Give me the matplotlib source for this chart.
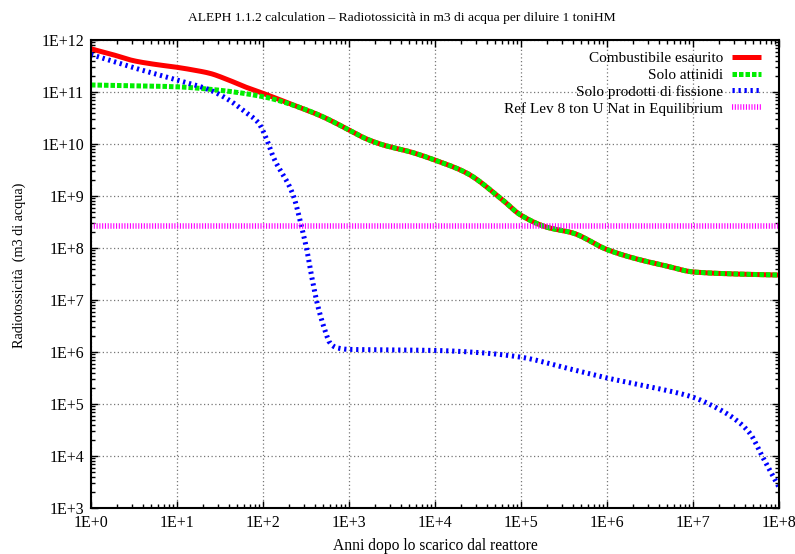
import numpy as np
import matplotlib
matplotlib.use("Agg")
import matplotlib.pyplot as plt
from matplotlib.ticker import LogLocator, NullFormatter, FixedLocator

plt.rcParams['font.family'] = ['Liberation Serif', 'DejaVu Serif']

# Data (log10 of years, log10 of value)
red_logx = [0.0, 0.25, 0.5, 0.75, 1.0, 1.2, 1.38, 1.6, 1.79, 2.0, 2.26, 2.45, 2.7, 3.0, 3.2, 3.4, 3.71, 4.0, 4.37,
            4.76, 5.0, 5.3, 5.6, 6.0, 6.3, 6.7, 7.0, 7.5, 8.0]
red_logy = [11.83, 11.72, 11.60, 11.53, 11.475, 11.42, 11.36, 11.23, 11.10, 10.975, 10.81, 10.69, 10.52, 10.27, 10.10,
            9.98, 9.85, 9.69, 9.44, 8.96, 8.63, 8.40, 8.29, 7.97, 7.81, 7.65, 7.54, 7.50, 7.48]

act_logx = [0.0, 0.5, 1.0, 1.4, 2.0, 2.45, 2.7, 3.0, 3.2, 3.4, 3.71, 4.0, 4.37, 4.76, 5.0, 5.3, 5.6, 6.0, 6.3, 6.7,
            7.0, 7.5, 8.0]
act_logy = [11.135, 11.12, 11.10, 11.05, 10.91, 10.69, 10.52, 10.27, 10.10, 9.98, 9.85, 9.69, 9.44, 8.96, 8.63, 8.40,
            8.29, 7.97, 7.81, 7.65, 7.54, 7.50, 7.48]

fp_logx = [0.0, 0.51, 1.0, 1.38, 1.6, 1.79, 1.95, 2.04, 2.12, 2.35, 2.45, 2.51, 2.58, 2.64, 2.72, 2.78, 2.86, 3.0,
           3.5, 4.0, 4.5, 5.0, 5.53, 6.0, 6.5, 7.0, 7.28, 7.47, 7.66, 7.81, 8.0]
fp_logy = [11.72, 11.46, 11.23, 11.04, 10.85, 10.62, 10.40, 10.10, 9.75, 9.02, 8.40, 7.96, 7.33, 6.87, 6.42, 6.17,
           6.08, 6.05, 6.04, 6.03, 5.99, 5.90, 5.69, 5.50, 5.33, 5.13, 4.92, 4.73, 4.44, 3.98, 3.40]

ref_level = 2.6e8

x_ticks = [1e0, 1e1, 1e2, 1e3, 1e4, 1e5, 1e6, 1e7, 1e8]
x_labels = ["1E+0", "1E+1", "1E+2", "1E+3", "1E+4", "1E+5", "1E+6", "1E+7", "1E+8"]
y_ticks = [1e3, 1e4, 1e5, 1e6, 1e7, 1e8, 1e9, 1e10, 1e11, 1e12]
y_labels = ["1E+3", "1E+4", "1E+5", "1E+6", "1E+7", "1E+8", "1E+9", "1E+10", "1E+11", "1E+12"]

labels = ["Combustibile esaurito", "Solo attinidi", "Solo prodotti di fissione", "Ref Lev 8 ton U Nat in Equilibrium"]


def smooth(lx, ly, n=400):
    lx = np.asarray(lx, float)
    ly = np.asarray(ly, float)
    xs = np.linspace(lx[0], lx[-1], n)
    # monotone cubic (PCHIP-like) interpolation
    h = np.diff(lx)
    d = np.diff(ly) / h
    m = np.zeros_like(ly)
    m[0] = d[0]
    m[-1] = d[-1]
    for i in range(1, len(ly) - 1):
        if d[i - 1] * d[i] <= 0:
            m[i] = 0
        else:
            w1 = 2 * h[i] + h[i - 1]
            w2 = h[i] + 2 * h[i - 1]
            m[i] = (w1 + w2) / (w1 / d[i - 1] + w2 / d[i])
    idx = np.clip(np.searchsorted(lx, xs) - 1, 0, len(h) - 1)
    t = (xs - lx[idx]) / h[idx]
    h00 = 2 * t**3 - 3 * t**2 + 1
    h10 = t**3 - 2 * t**2 + t
    h01 = -2 * t**3 + 3 * t**2
    h11 = t**3 - t**2
    ys = h00 * ly[idx] + h10 * h[idx] * m[idx] + h01 * ly[idx + 1] + h11 * h[idx] * m[idx + 1]
    return 10**xs, 10**ys


W, H = 795, 554
fig = plt.figure(figsize=(W / 100, H / 100), dpi=100)
ax = fig.add_axes([91 / W, 1 - 508 / H, 688 / W, 468 / H])

x, y = smooth(red_logx, red_logy)
ax.plot(x, y, color='#ff0000', lw=3.6, solid_capstyle='butt', label=labels[0])
x, y = smooth(act_logx, act_logy)
ax.plot(x, y, color='#00ee00', lw=3.6, linestyle=(0, (0.9, 0.4)), label=labels[1])
x, y = smooth(fp_logx, fp_logy)
ax.plot(x, y, color='#0000ff', lw=3.6, linestyle=(0, (0.45, 0.75)), label=labels[2])
ax.plot([1e0, 1e8], [ref_level, ref_level], color='#ff00ff', lw=4.0, linestyle=(0, (0.2, 0.3)), label=labels[3])

ax.set_xscale('log')
ax.set_yscale('log')
ax.set_xlim(1e0, 1e8)
ax.set_ylim(1e3, 1e12)

ax.xaxis.set_major_locator(FixedLocator(x_ticks))
ax.set_xticklabels(x_labels)
ax.yaxis.set_major_locator(FixedLocator(y_ticks))
ax.set_yticklabels(y_labels)
ax.xaxis.set_minor_locator(LogLocator(base=10, subs=np.arange(2, 10), numticks=20))
ax.yaxis.set_minor_locator(LogLocator(base=10, subs=np.arange(2, 10), numticks=20))
ax.xaxis.set_minor_formatter(NullFormatter())
ax.yaxis.set_minor_formatter(NullFormatter())

ax.tick_params(which='both', direction='in', top=True, right=True, labelsize=11.5, width=1.0)
ax.tick_params(which='major', length=5)
ax.tick_params(axis='y', which='major', pad=5)
ax.tick_params(axis='x', which='major', pad=5)
ax.tick_params(which='minor', length=3)
for s in ax.spines.values():
    s.set_linewidth(1.5)

ax.grid(True, which='major', color='#777777', linestyle=(0, (1, 2)), linewidth=0.9)

fig.text(0.506, 1 - 20.7 / H, "ALEPH 1.1.2 calculation \u2013 Radiotossicit\u00e0 in m3 di acqua per diluire 1 toniHM",
         fontsize=9.7, ha='center', va='baseline')
fig.text(435.5 / W, 1 - 550 / H, "Anni dopo lo scarico dal reattore", fontsize=11.2, ha='center', va='baseline')
fig.text(19 / W, 1 - 265 / H, "Radiotossicit\u00e0  (m3 di acqua)", fontsize=10.2, ha='center', va='center',
         rotation=90)

leg = ax.legend(loc='upper right', bbox_to_anchor=(1 - 7 / 688, 1.0), frameon=False, markerfirst=False,
                fontsize=11, handlelength=1.85, labelspacing=0.2, borderaxespad=0.35, handletextpad=0.6)
for t in leg.get_texts():
    t.set_ha('right')

fig.savefig('out.png', dpi=100)
